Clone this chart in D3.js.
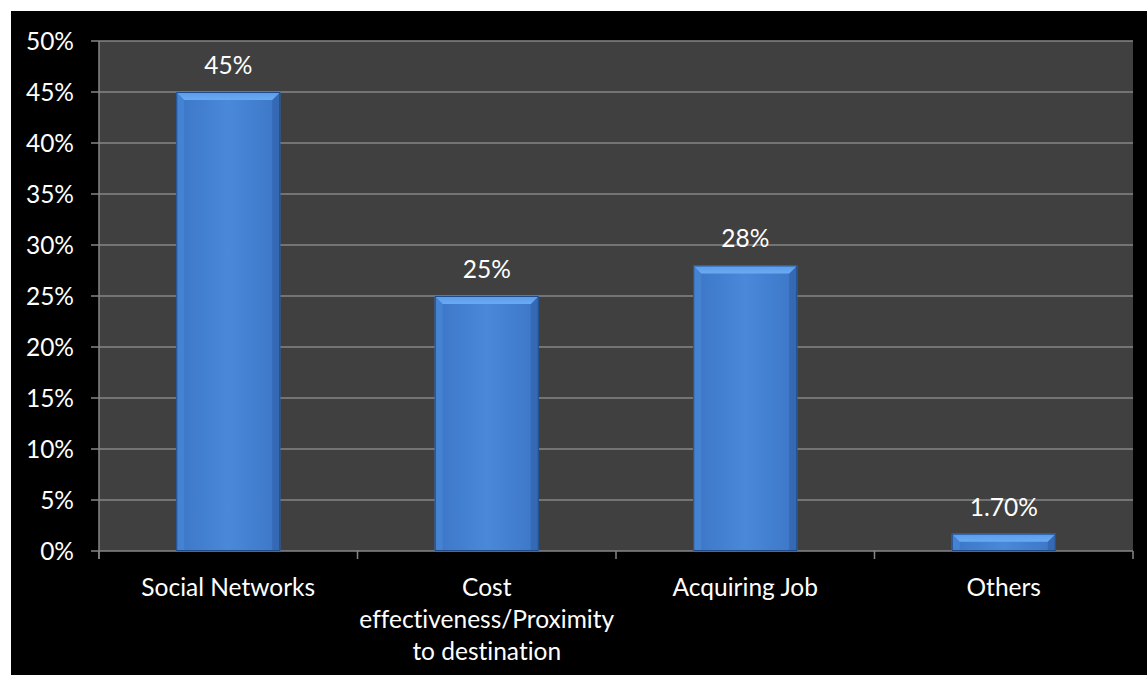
<!DOCTYPE html>
<html>
<head>
<meta charset="utf-8">
<script src="https://cdn.jsdelivr.net/npm/d3@7"></script>
<style>
  html, body { margin: 0; padding: 0; background: #ffffff; }
  svg { display: block; }
  text { font-family: Lato, "Open Sans", sans-serif; fill: #ffffff; font-variant-ligatures: none; font-feature-settings: "liga" 0; }
</style>
</head>
<body>
<svg id="chart" width="1147" height="675"></svg>
<script>
// Reasons for choosing a destination (share of respondents)
const categories = [
  ["Social Networks"],
  ["Cost", "effectiveness/Proximity", "to destination"],
  ["Acquiring Job"],
  ["Others"]
];
const values = [45, 25, 28, 1.7];
const valueLabels = ["45%", "25%", "28%", "1.70%"];
const yTicks = [0, 5, 10, 15, 20, 25, 30, 35, 40, 45, 50];

const svg = d3.select("#chart");
const W = 1147, H = 675;
const plot = { left: 99, right: 1133, top: 41, bottom: 551 };
const fontSize = 24.5;

// black slide background
svg.append("rect").attr("x", 11).attr("y", 11).attr("width", W - 11).attr("height", H - 11).attr("fill", "#000000");

const x = d3.scaleBand().domain(d3.range(categories.length)).range([plot.left, plot.right]).paddingInner(0).paddingOuter(0);
const y = d3.scaleLinear().domain([0, 50]).range([plot.bottom, plot.top]);

// plot area
svg.append("rect")
  .attr("x", plot.left).attr("y", plot.top)
  .attr("width", plot.right - plot.left).attr("height", plot.bottom - plot.top)
  .attr("fill", "#404040");

// gridlines
svg.append("g").selectAll("line").data(yTicks).join("line")
  .attr("x1", plot.left - 8).attr("x2", plot.right)
  .attr("y1", d => y(d)).attr("y2", d => y(d))
  .attr("stroke", "#868686").attr("stroke-width", 1.5);

// y axis line
svg.append("line")
  .attr("x1", plot.left).attr("x2", plot.left)
  .attr("y1", plot.top).attr("y2", plot.bottom + 8)
  .attr("stroke", "#868686").attr("stroke-width", 1.5);

// category boundary ticks
const bounds = d3.range(categories.length + 1).map(i => i < categories.length ? x(i) : plot.right);
svg.append("g").selectAll("line").data(bounds).join("line")
  .attr("x1", d => d).attr("x2", d => d)
  .attr("y1", plot.bottom).attr("y2", plot.bottom + 8)
  .attr("stroke", "#868686").attr("stroke-width", 1.5);

// y tick labels
svg.append("g").selectAll("text").data(yTicks).join("text")
  .attr("x", 74).attr("y", d => y(d))
  .attr("dy", "0.35em")
  .attr("text-anchor", "end")
  .attr("font-size", fontSize)
  .text(d => d + "%");

// bar gradients
const defs = svg.append("defs");
const body = defs.append("linearGradient").attr("id", "barBody").attr("x1", 0).attr("x2", 1).attr("y1", 0).attr("y2", 0);
body.append("stop").attr("offset", "0%").attr("stop-color", "#3c76c6");
body.append("stop").attr("offset", "50%").attr("stop-color", "#4a88da");
body.append("stop").attr("offset", "100%").attr("stop-color", "#3c76c6");
const topG = defs.append("linearGradient").attr("id", "barTop").attr("x1", 0).attr("x2", 0).attr("y1", 0).attr("y2", 1);
topG.append("stop").attr("offset", "0%").attr("stop-color", "#5a9cec");
topG.append("stop").attr("offset", "100%").attr("stop-color", "#6aaaf2");

const barW = 104;
const bevel = 8;
const bars = svg.append("g").selectAll("g").data(values).join("g");

bars.each(function(v, i) {
  const g = d3.select(this);
  const cx = x(i) + x.bandwidth() / 2;
  const x0 = cx - barW / 2, x1 = cx + barW / 2;
  const y0 = y(v), y1 = y(0);
  const b = Math.min(bevel, (y1 - y0) / 2);
  g.append("rect").attr("x", x0).attr("y", y0).attr("width", barW).attr("height", y1 - y0)
    .attr("fill", "url(#barBody)");
  // left bevel
  g.append("polygon")
    .attr("points", [[x0, y0], [x0 + b, y0 + b], [x0 + b, y1], [x0, y1]].join(" "))
    .attr("fill", "#4682d2");
  // right bevel
  g.append("polygon")
    .attr("points", [[x1, y0], [x1 - b, y0 + b], [x1 - b, y1], [x1, y1]].join(" "))
    .attr("fill", "#3569b3");
  // top bevel
  g.append("polygon")
    .attr("points", [[x0, y0], [x1, y0], [x1 - b, y0 + b], [x0 + b, y0 + b]].join(" "))
    .attr("fill", "url(#barTop)");
  // outline
  g.append("rect").attr("x", x0 + 0.5).attr("y", y0 + 0.5).attr("width", barW - 1).attr("height", y1 - y0 - 1)
    .attr("fill", "none").attr("stroke", "#1f4c88").attr("stroke-width", 1);
});

// value labels
svg.append("g").selectAll("text").data(values).join("text")
  .attr("x", (d, i) => x(i) + x.bandwidth() / 2)
  .attr("y", d => y(d) - 18)
  .attr("text-anchor", "middle")
  .attr("font-size", fontSize)
  .text((d, i) => valueLabels[i]);

// category labels
const cat = svg.append("g").selectAll("text").data(categories).join("text")
  .attr("x", (d, i) => x(i) + x.bandwidth() / 2)
  .attr("y", 587)
  .attr("text-anchor", "middle")
  .attr("font-size", fontSize);
cat.selectAll("tspan").data(d => d).join("tspan")
  .attr("x", function() { return d3.select(this.parentNode).attr("x"); })
  .attr("y", (d, j) => 587 + j * 32)
  .attr("dy", "0.35em")
  .text(d => d);
</script>
</body>
</html>
